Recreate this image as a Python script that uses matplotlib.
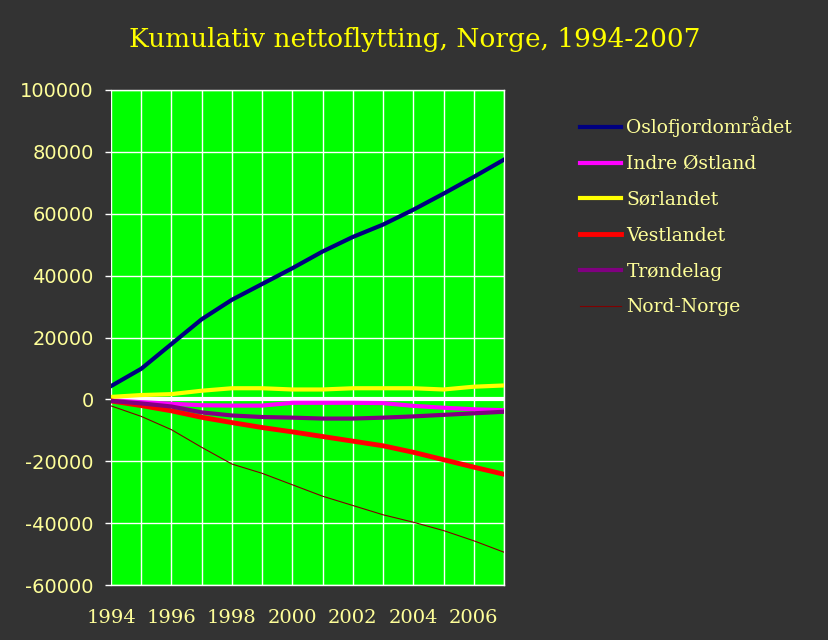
"""
Kumulativ nettoflytting, Norge 1994-2007 - line chart per landsdel.
"""

import numpy as np
import matplotlib
matplotlib.use("Agg")
import matplotlib.pyplot as plt
from matplotlib.ticker import MultipleLocator

years = np.arange(1994, 2008)

oslofjord = [4300, 9900, 17900, 25900, 32200, 37300, 42400, 47800, 52500, 56500, 61300, 66500, 71900, 77500]
indre_ostland = [-300, -900, -1400, -1900, -2000, -2000, -1100, -1100, -1100, -1200, -2100, -2700, -3200, -3500]
sorlandet = [800, 1400, 1700, 2800, 3600, 3600, 3200, 3200, 3600, 3600, 3600, 3200, 4100, 4500]
vestlandet = [-500, -2000, -3700, -5800, -7500, -9100, -10500, -12000, -13500, -15000, -17100, -19500, -21900, -24200]
trondelag = [-500, -1300, -2300, -4200, -5200, -5700, -5900, -6200, -6200, -5900, -5500, -5000, -4500, -4000]
nord_norge = [-2100, -5500, -9800, -15500, -20900, -23900, -27600, -31300, -34300, -37300, -39700, -42400, -45700, -49400]

series = [
    ("Oslofjordområdet", oslofjord, "#000080", 3.0),
    ("Indre Østland", indre_ostland, "#ff00ff", 3.0),
    ("Sørlandet", sorlandet, "#ffff00", 3.0),
    ("Vestlandet", vestlandet, "#ff0000", 3.5),
    ("Trøndelag", trondelag, "#800080", 3.0),
    ("Nord-Norge", nord_norge, "#800000", 0.8),
]

bg = "#333333"
txt = "#ffff99"

fig = plt.figure(figsize=(8.29, 6.4), dpi=100, facecolor=bg)
ax = fig.add_axes([0.1339, 0.0859, 0.4741, 0.7735])
ax.set_facecolor("#00ff00")

# white grid at every year and every 20000
ax.xaxis.set_major_locator(MultipleLocator(2))
ax.xaxis.set_minor_locator(MultipleLocator(1))
ax.grid(which="both", color="white", linewidth=1.0, zorder=1)
ax.set_axisbelow(True)

ax.axhline(0, color="white", linewidth=3.0, zorder=2)

for name, vals, col, lw in series:
    ax.plot(years, vals, color=col, linewidth=lw, label=name, zorder=3)

ax.set_xlim(1994, 2007)
ax.set_ylim(-60000, 100000)
ax.set_yticks(np.arange(-60000, 100001, 20000))
ax.set_yticklabels([str(v) for v in range(-60000, 100001, 20000)],
                   fontsize=14, color=txt, family="DejaVu Sans")
ax.set_xticks(np.arange(1994, 2007, 2))
ax.set_xticklabels([str(y) for y in range(1994, 2007, 2)],
                   fontsize=14, color=txt, family="DejaVu Serif")

ax.tick_params(axis="y", which="both", color="white", length=4.3, width=1, pad=8)
ax.tick_params(axis="x", which="both", length=0, pad=17)

for side in ["top", "right", "bottom"]:
    ax.spines[side].set_color("white")
    ax.spines[side].set_linewidth(1)
ax.spines["left"].set_visible(False)

fig.text(0.5, 0.9375, "Kumulativ nettoflytting, Norge, 1994-2007",
         ha="center", va="center", fontsize=19, color="#ffff00", family="DejaVu Serif")

leg = fig.legend(loc="upper left", bbox_to_anchor=(0.69, 0.83), frameon=False,
                 prop={"family": "DejaVu Serif", "size": 13.5},
                 handlelength=2.2, handletextpad=0.3, labelspacing=0.95, borderaxespad=0)
for t in leg.get_texts():
    t.set_color(txt)

fig.savefig("out.png", dpi=100, facecolor=bg)
